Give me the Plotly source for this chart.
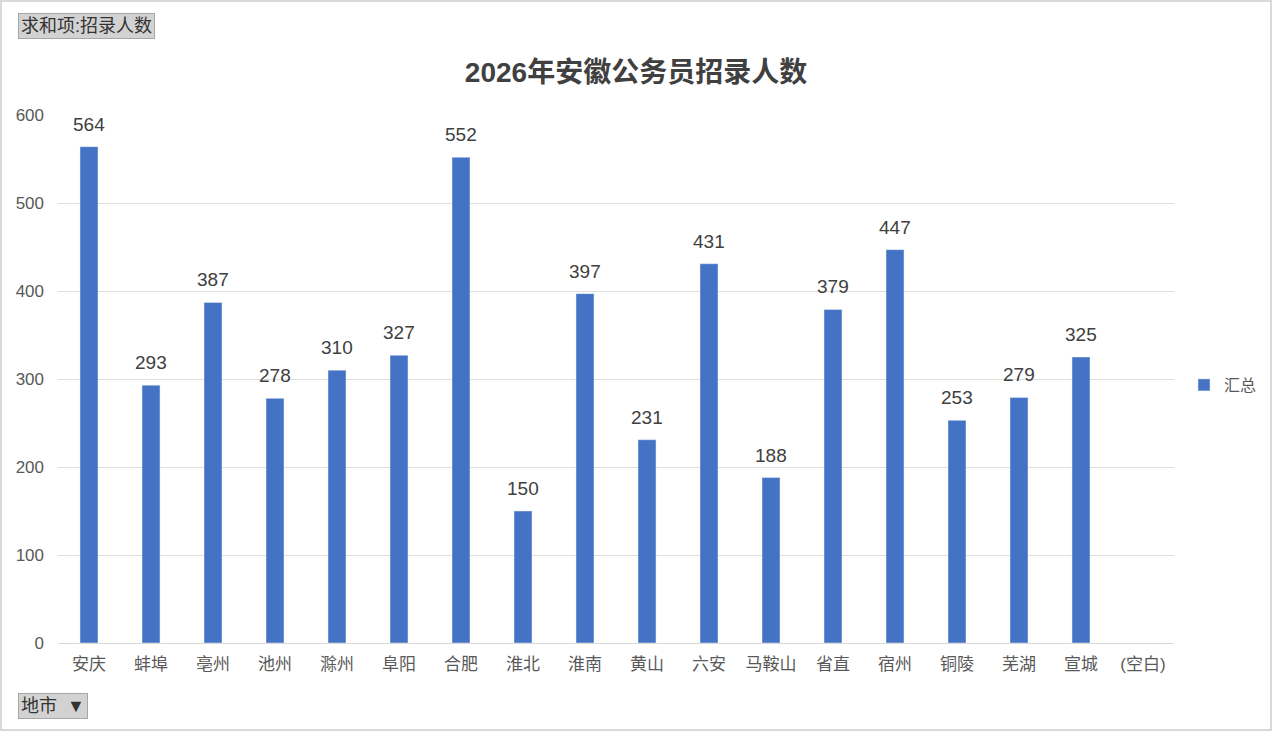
import plotly.graph_objects as go

# 地市 / 招录人数
cities = ["安庆", "蚌埠", "亳州", "池州", "滁州", "阜阳", "合肥", "淮北", "淮南",
          "黄山", "六安", "马鞍山", "省直", "宿州", "铜陵", "芜湖", "宣城", "(空白)"]
counts = [564, 293, 387, 278, 310, 327, 552, 150, 397,
          231, 431, 188, 379, 447, 253, 279, 325, None]
y_ticks = [0, 100, 200, 300, 400, 500, 600]

W, H = 1272, 731
ML, MR, MT, MB = 58, 98, 115, 88
PW, PH = W - ML - MR, H - MT - MB

FONT = "Liberation Sans, Noto Sans CJK SC, sans-serif"

fig = go.Figure()
fig.add_trace(go.Bar(
    x=cities,
    y=counts,
    name="汇总",
    marker_color="#4472c4",
    cliponaxis=False,
))

# data labels above the bars
for c, v in zip(cities, counts):
    if v is None:
        continue
    fig.add_annotation(
        x=c, y=v, text=str(v),
        xanchor="center", yanchor="bottom",
        yshift=10, showarrow=False,
        font=dict(size=19, color="#404040"),
    )

fig.update_layout(
    width=W,
    height=H,
    margin=dict(l=ML, r=MR, t=MT, b=MB, autoexpand=False),
    paper_bgcolor="white",
    plot_bgcolor="white",
    font=dict(family=FONT, color="#595959"),
    bargap=0.71,
    title=dict(
        text="<b>2026年安徽公务员招录人数</b>",
        x=0.5,
        xanchor="center",
        y=1 - 72 / H,
        yanchor="middle",
        font=dict(size=28, color="#404040"),
    ),
    showlegend=True,
    legend=dict(
        xref="container", yref="container",
        x=1184 / W,
        y=1 - 385 / H,
        xanchor="left",
        yanchor="middle",
        font=dict(size=16, color="#595959"),
        itemwidth=30,
    ),
)

fig.update_xaxes(
    showgrid=False,
    showline=True,
    linecolor="#d9d9d9",
    linewidth=1,
    ticks="",
    tickfont=dict(size=17, color="#595959"),
    ticklabelstandoff=6,
)
fig.update_yaxes(
    range=[0, 600],
    tickvals=y_ticks,
    showgrid=True,
    gridcolor="#dedede",
    gridwidth=1,
    zeroline=False,
    ticks="",
    tickfont=dict(size=17, color="#595959"),
    ticklabelstandoff=13,
)

# outer frame
fig.add_shape(
    type="rect", xref="paper", yref="paper",
    x0=(1 - ML) / PW, x1=(W - 1 - ML) / PW,
    y0=-(MB - 1) / PH, y1=1 + (MT - 1) / PH,
    line=dict(color="#d9d9d9", width=2),
    fillcolor="rgba(0,0,0,0)",
    layer="below",
)

# pivot field buttons
fig.add_annotation(
    text="求和项:招录人数",
    xref="paper", yref="paper",
    x=(18 - ML) / PW, y=1 + (MT - 26) / PH,
    xanchor="left", yanchor="middle",
    showarrow=False,
    font=dict(size=18, color="#333333"),
    bgcolor="#d2d2d2",
    bordercolor="#a6a6a6",
    borderwidth=1,
    borderpad=2,
)
fig.add_annotation(
    text="地市  ▼",
    xref="paper", yref="paper",
    x=(18 - ML) / PW, y=-(706 - 643) / PH,
    xanchor="left", yanchor="middle",
    showarrow=False,
    font=dict(size=18, color="#333333"),
    bgcolor="#d2d2d2",
    bordercolor="#a6a6a6",
    borderwidth=1,
    borderpad=2,
)

fig.write_html(
    "out.html",
    config={"displayModeBar": False},
    post_script="document.body.style.margin='0';",
)
